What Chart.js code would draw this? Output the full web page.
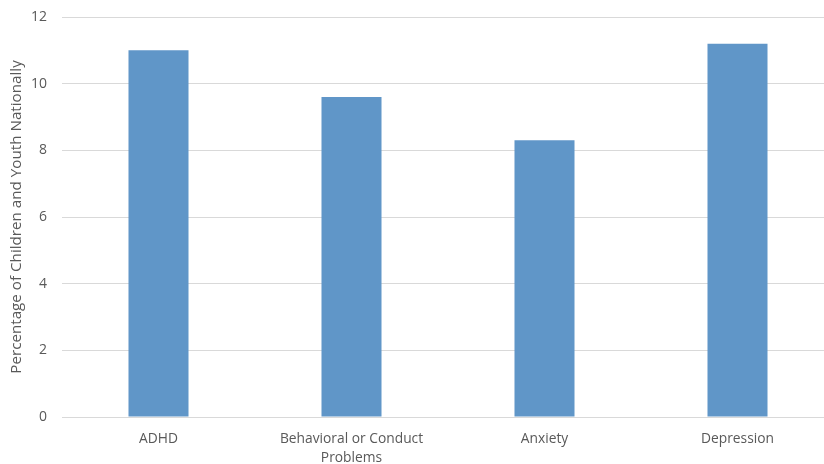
<!DOCTYPE html>
<html>
<head>
<meta charset="utf-8">
<script src="https://cdn.jsdelivr.net/npm/chart.js@4/dist/chart.umd.min.js"></script>
<style>
  html, body { margin: 0; padding: 0; background: #fff; overflow: hidden; }
  #wrap { width: 824px; height: 464px; overflow: hidden; position: relative; }
  canvas { position: absolute; left: 0; top: 0; }
</style>
</head>
<body>
<div id="wrap"><canvas id="mycanvas" width="834" height="464"></canvas></div>
<script>
// categories and values
var categories = ['ADHD', ['Behavioral or Conduct', 'Problems'], 'Anxiety', 'Depression'];
var percentages = [11.0, 9.6, 8.3, 11.2];
var yTicks = [0, 2, 4, 6, 8, 10, 12];

var textColor = '#595959';

var ctx = document.getElementById('mycanvas');

var barChart = new Chart(ctx, {
  type: 'bar',
  data: {
    labels: categories,
    datasets: [
      {
        label: 'Percentage',
        backgroundColor: '#6096c8',
        borderWidth: 0,
        data: percentages,
        barPercentage: 0.311,
        categoryPercentage: 1.0
      }
    ]
  },
  options: {
    responsive: false,
    animation: false,
    layout: {
      padding: { top: 17, right: 0, bottom: 0, left: 0 }
    },
    scales: {
      y: {
        min: 0,
        max: 12,
        afterFit: function(scale) {
          scale.width = 62;
          scale.paddingTop = 0;
          scale.paddingBottom = 0;
        },
        afterBuildTicks: function(scale) {
          scale.ticks = yTicks.map(function(v) { return { value: v }; });
        },
        border: { display: false },
        grid: { color: '#d9d9d9', drawTicks: false, lineWidth: 1 },
        ticks: {
          padding: 15,
          color: textColor,
          font: { family: 'Open Sans', size: 14 }
        },
        title: {
          display: true,
          text: 'Percentage of Children and Youth Nationally',
          color: textColor,
          font: { family: 'Open Sans', size: 15.2 },
          padding: { top: 8, bottom: 0 }
        }
      },
      x: {
        afterFit: function(scale) { scale.height = 47; },
        border: { display: false },
        grid: { display: false },
        ticks: {
          padding: 5,
          maxRotation: 0,
          autoSkip: false,
          color: textColor,
          font: { family: 'Open Sans', size: 13.8, lineHeight: 1.35 }
        }
      }
    },
    plugins: {
      legend: { display: false },
      title: { display: false },
      tooltip: { enabled: false }
    }
  }
});
</script>
</body>
</html>
